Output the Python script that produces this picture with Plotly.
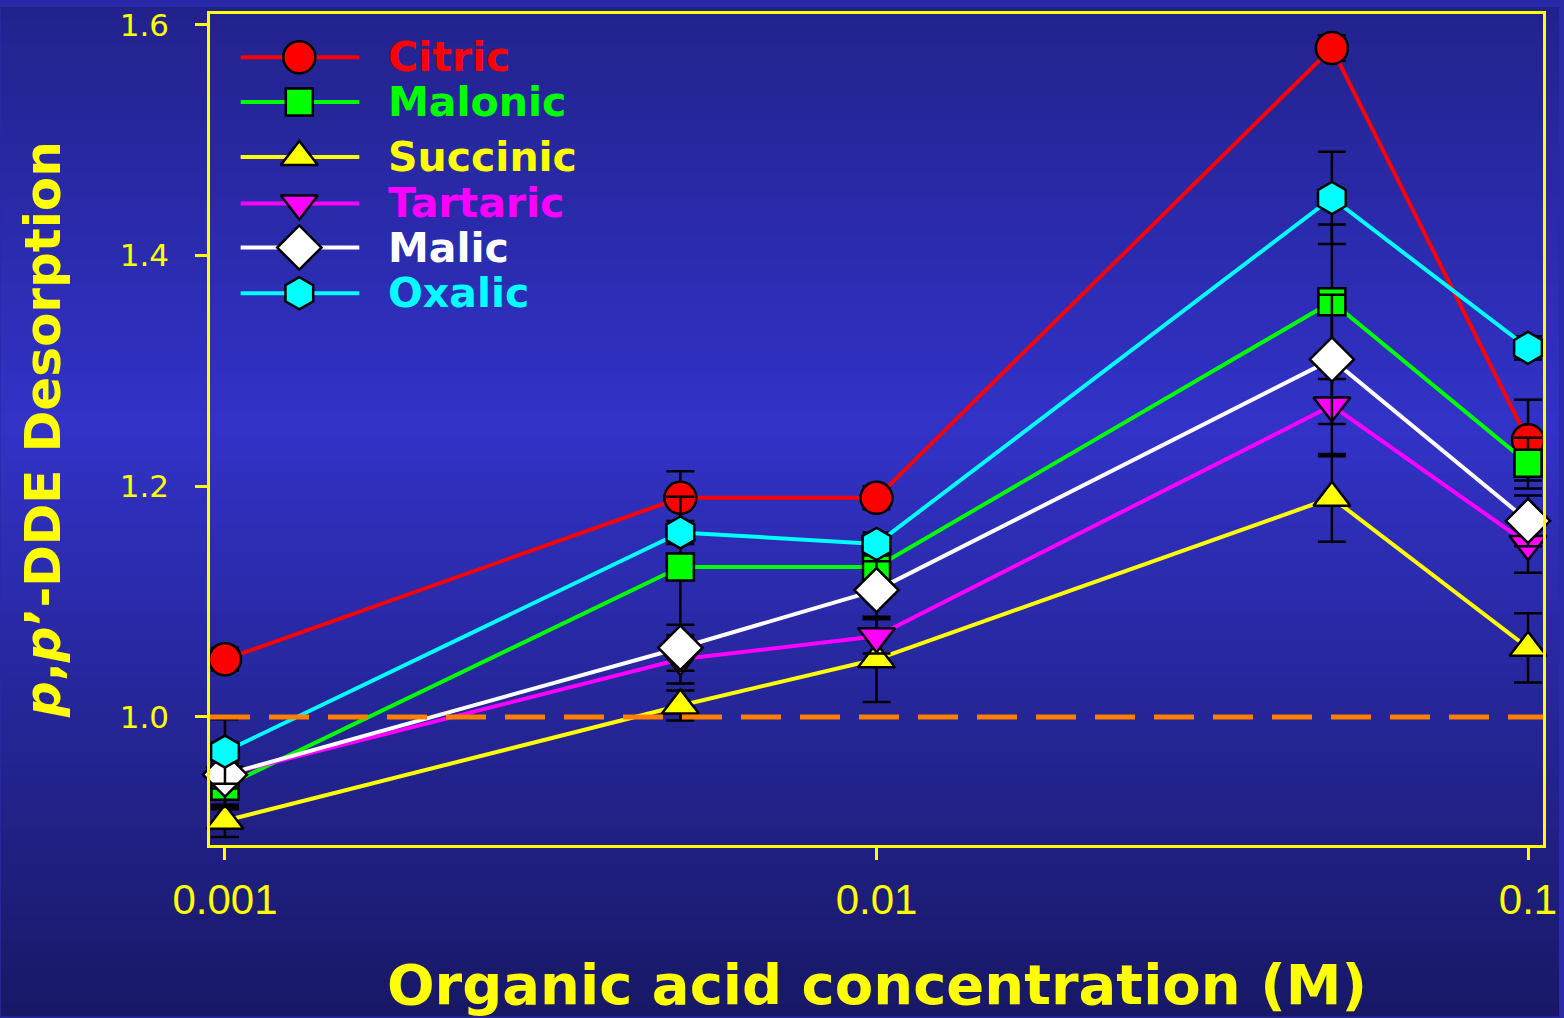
import plotly.graph_objects as go

# ---------------- data ----------------
conc = [0.001, 0.005, 0.01, 0.05, 0.1]

citric = [1.05, 1.19, 1.19, 1.58, 1.24]
citric_err = [0.010, 0.023, 0.010, 0.011, 0.035]
malonic = [0.94, 1.13, 1.13, 1.36, 1.22]
malonic_err = [0.020, 0.061, 0.010, 0.067, 0.022]
succinic = [0.91, 1.01, 1.05, 1.19, 1.06]
succinic_err = [0.014, 0.013, 0.037, 0.038, 0.030]
tartaric = [0.95, 1.05, 1.07, 1.27, 1.15]
tartaric_err = [0.028, 0.021, 0.015, 0.044, 0.025]
malic = [0.95, 1.06, 1.11, 1.31, 1.17]
malic_err = [0.012, 0.020, 0.025, 0.056, 0.022]
oxalic = [0.97, 1.16, 1.15, 1.45, 1.32]
oxalic_err = [0.028, 0.010, 0.010, 0.040, 0.010]

series_names = ["Citric", "Malonic", "Succinic", "Tartaric", "Malic", "Oxalic"]
series_values = [citric, malonic, succinic, tartaric, malic, oxalic]
series_errors = [citric_err, malonic_err, succinic_err, tartaric_err, malic_err, oxalic_err]

x_tick_vals = [0.001, 0.01, 0.1]
x_tick_text = ["0.001", "0.01", "0.1"]
y_tick_vals = [1.0, 1.2, 1.4, 1.6]
y_tick_text = ["1.0", "1.2", "1.4", "1.6"]
reference_level = 1.0

# ---------------- styles ----------------
colors = ["#ff0000", "#00ff00", "#ffff00", "#ff00ff", "#ffffff", "#00ffff"]
symbols = ["circle", "square", "triangle-up", "triangle-down", "diamond", "hexagon"]
sizes = [32, 27, 32, 32, 34, 32]
legend_rows = [0.948, 0.894, 0.828, 0.772, 0.719, 0.664]
YELLOW = "#ffff00"

W, H = 1564, 1018
ML, MR, MT, MB = 210, 16, 7, 173
PW, PH = W - ML - MR, H - MT - MB

fig = go.Figure()

# background vertical gradient (bands in paper coords, kept inside the figure)
stops = [(0, (0x22, 0x22, 0x8c)), (420, (0x32, 0x32, 0xc8)), (1018, (0x18, 0x18, 0x66))]
def col_at(py):
    for (p0, c0), (p1, c1) in zip(stops[:-1], stops[1:]):
        if p0 <= py <= p1:
            t = (py - p0) / (p1 - p0)
            return "rgb(%d,%d,%d)" % tuple(round(a + (b - a) * t) for a, b in zip(c0, c1))
    return "rgb(%d,%d,%d)" % stops[-1][1]

nb = 80
shapes = []
for i in range(nb):
    p0 = H * i / nb
    p1 = min(H, H * (i + 1) / nb + 0.6)
    shapes.append(dict(
        type="rect", xref="paper", yref="paper", layer="below",
        x0=-ML / PW, x1=1 + MR / PW,
        y0=(H - MB - p1) / PH, y1=(H - MB - p0) / PH,
        fillcolor=col_at((p0 + p1) / 2), line=dict(width=0),
    ))

# dashed reference line
shapes.append(dict(type="line", xref="paper", yref="y", x0=0, x1=1,
                   y0=reference_level, y1=reference_level, layer="above",
                   line=dict(color="#ff8000", width=5, dash="40px,19px")))

for name, vals, errs, c, s, sz in zip(series_names, series_values, series_errors,
                                      colors, symbols, sizes):
    fig.add_trace(go.Scatter(
        x=conc, y=vals, mode="lines+markers", name=name,
        line=dict(color=c, width=4),
        marker=dict(symbol=s, size=sz, color=c, line=dict(color="black", width=2.5)),
        error_y=dict(type="data", array=errs, visible=True, color="black",
                     thickness=2.5, width=14),
        cliponaxis=False, showlegend=False,
    ))

# custom legend (samples on an overlay axis in plot-fraction units)
annotations = []
for name, c, s, sz, ry in zip(series_names, colors, symbols, sizes, legend_rows):
    fig.add_trace(go.Scatter(
        x=[0.023, 0.112], y=[ry, ry], mode="lines", xaxis="x2", yaxis="y2",
        line=dict(color=c, width=4), showlegend=False, hoverinfo="skip",
        cliponaxis=False))
    fig.add_trace(go.Scatter(
        x=[0.067], y=[ry], mode="markers", xaxis="x2", yaxis="y2",
        marker=dict(symbol=s, size=sz, color=c, line=dict(color="black", width=2.5)),
        showlegend=False, hoverinfo="skip", cliponaxis=False))
    annotations.append(dict(
        x=0.133, y=ry, xref="paper", yref="paper", xanchor="left", yanchor="middle",
        text="<b>%s</b>" % name, showarrow=False, borderpad=0,
        font=dict(family="DejaVu Sans", size=41, color=c)))

annotations.append(dict(
    x=0.5, y=-0.168, xref="paper", yref="paper", xanchor="center", yanchor="middle",
    text="<b>Organic acid concentration (M)</b>", showarrow=False,
    font=dict(family="DejaVu Sans", size=56, color=YELLOW)))
annotations.append(dict(
    x=-0.1256, y=0.5, xref="paper", yref="paper", xanchor="center", yanchor="middle",
    textangle=-90, text="<b><i>p</i>,<i>p</i>’-DDE Desorption</b>", showarrow=False,
    font=dict(family="DejaVu Sans", size=50, color=YELLOW)))

fig.update_layout(
    width=W, height=H,
    margin=dict(l=ML, r=MR, t=MT, b=MB),
    paper_bgcolor="#2a2aa8", plot_bgcolor="rgba(0,0,0,0)",
    showlegend=False, shapes=shapes, annotations=annotations,
    xaxis=dict(type="log", range=[-3.023, -0.977], tickvals=x_tick_vals, ticktext=x_tick_text,
               showgrid=False, zeroline=False, showline=True, mirror=True,
               linecolor=YELLOW, linewidth=2.5, ticks="outside", ticklen=12,
               tickwidth=2.5, tickcolor=YELLOW, ticklabelstandoff=4,
               ticklabeloverflow="allow",
               tickfont=dict(family="Liberation Sans", size=42, color=YELLOW)),
    yaxis=dict(range=[0.889, 1.6095], tickvals=y_tick_vals, ticktext=y_tick_text,
               showgrid=False, zeroline=False, showline=True, mirror=True,
               linecolor=YELLOW, linewidth=2.5, ticks="outside", ticklen=12,
               tickwidth=2.5, tickcolor=YELLOW, ticklabelstandoff=20,
               tickfont=dict(family="DejaVu Sans", size=31, color=YELLOW)),
    xaxis2=dict(overlaying="x", range=[0, 1], visible=False, fixedrange=True),
    yaxis2=dict(overlaying="y", range=[0, 1], visible=False, fixedrange=True),
)

fig.write_html(
    "out.html",
    config={"displayModeBar": False},
    post_script=("document.documentElement.style.margin='0';"
                 "document.documentElement.style.overflow='hidden';"
                 "document.body.style.margin='0';document.body.style.padding='0';"
                 "document.body.style.overflow='hidden';"
                 "var gd=document.querySelector('.plotly-graph-div');"
                 "gd.style.position='fixed';gd.style.top='0';gd.style.left='0';"),
)
